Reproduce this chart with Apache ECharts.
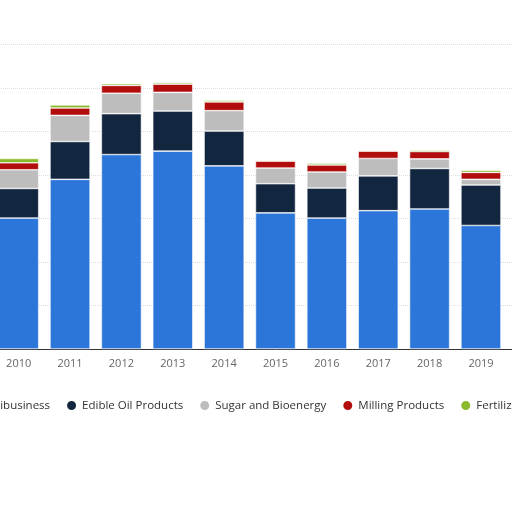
<!DOCTYPE html><html><head><meta charset="utf-8"><script src="https://cdn.jsdelivr.net/npm/echarts@6/dist/echarts.min.js"></script>
<style>html,body{margin:0;background:#fff;overflow:hidden;width:512px;height:512px}#c{width:565px;height:512px;margin-left:-7px}</style></head><body><div id="c"></div><script>
const years=['2010','2011','2012','2013','2014','2015','2016','2017','2018','2019','2020'];
const agribusiness=[30.1,39.0,44.7,45.5,42.1,31.3,30.1,31.8,32.2,28.4,29.4];
const edibleOil=[6.8,8.7,9.4,9.2,8.0,6.7,6.9,8.0,9.3,9.3,9.0];
const sugarBio=[4.3,6.0,4.7,4.3,4.7,3.6,3.7,4.0,2.2,1.3,0.3];
const milling=[1.6,1.7,1.8,1.9,2.0,1.6,1.6,1.7,1.7,1.6,1.6];
const fertilizer=[1.0,0.7,0.4,0.4,0.4,0.2,0.4,0.2,0.3,0.5,0.1];
const names=['Agribusiness','Edible Oil Products','Sugar and Bioenergy','Milling Products','Fertilizer'];
const colors=['#2c76d9','#13263f','#bdbdbd','#b20d0d','#8ab92d'];
const data=[agribusiness,edibleOil,sugarBio,milling,fertilizer];
const ch=echarts.init(document.getElementById('c'));
ch.setOption({animation:false,
grid:{left:0,right:0,top:44.5,bottom:163},
legend:{left:-33,top:394,width:800,icon:'circle',itemWidth:11,itemHeight:11,itemGap:15,textStyle:{fontSize:11.5,color:'#333',fontFamily:'Open Sans'},data:names},
xAxis:{type:'category',data:years,axisTick:{show:false},axisLine:{lineStyle:{color:'#333'}},axisLabel:{color:'#666',fontSize:11,margin:9,fontFamily:'Open Sans'}},
yAxis:{type:'value',min:0,max:70,interval:10,axisLabel:{show:false},axisLine:{show:false},splitLine:{lineStyle:{color:'#ddd',type:'dotted'}}},
series:data.map((d,i)=>({name:names[i],type:'bar',stack:'s',data:d,barCategoryGap:'22%',itemStyle:{color:colors[i],borderColor:'#fff',borderWidth:0.6}}))
});
</script></body></html>
